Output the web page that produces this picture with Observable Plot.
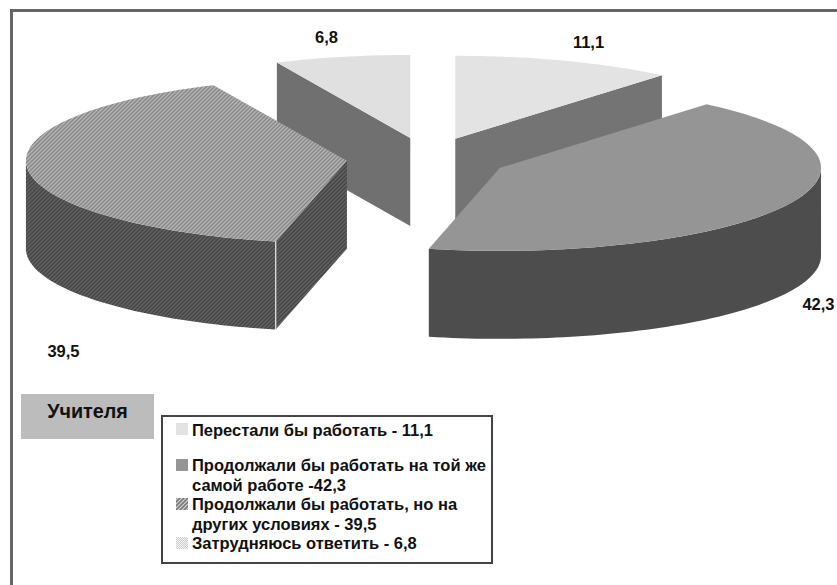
<!DOCTYPE html>
<html><head><meta charset="utf-8">
<script src="https://cdn.jsdelivr.net/npm/d3@7"></script>
<script src="https://cdn.jsdelivr.net/npm/@observablehq/plot@0.6"></script>
<style>
html,body{margin:0;padding:0;background:#fff;overflow:hidden}
#wrap{position:relative;width:837px;height:585px;font-family:"Liberation Sans",Arial,sans-serif;font-weight:bold;color:#111}
#wrap svg.plot{position:absolute;left:0;top:0}
#frameT{position:absolute;left:10px;top:9px;width:827px;height:3px;background:#666}
#frameL{position:absolute;left:10px;top:9px;width:3px;height:576px;background:#666}
#title{position:absolute;left:21px;top:394px;width:133px;height:45px;background:#bcbcbc;font-size:19.8px;line-height:35px;text-align:center;box-sizing:border-box}
#legend{position:absolute;left:161px;top:415px;width:332px;height:149px;border:2px solid #444;box-sizing:border-box;background:#fff}
.li{position:absolute;left:29px;font-size:16.5px;line-height:15px;white-space:nowrap}
.sw{position:absolute;left:13px;width:12px;height:12px}
</style></head><body>
<div id="wrap"></div>
<script>
const categories = ["Перестали бы работать", "Продолжали бы работать на той же самой работе", "Продолжали бы работать, но на других условиях", "Затрудняюсь ответить"];
const values = [11.1, 42.3, 39.5, 6.8];
const valueLabels = ["11,1", "42,3", "39,5", "6,8"];
const legendLines = [
  ["Перестали бы работать - 11,1"],
  ["Продолжали бы работать на той же", "самой работе -42,3"],
  ["Продолжали бы работать, но на", "других условиях - 39,5"],
  ["Затрудняюсь ответить - 6,8"]
];

// pie projection
const W = 837, H = 585;
const cx = 427, cy = 158, rx = 321, ry = 83, depth = 88, explode = 81, explodeY = 21;
const topFill = ["#e3e3e3", "#959595", "url(#hatchTop)", "url(#dotTop)"];
const sideFill = ["#747474", "#4d4d4d", "url(#hatchSide)", "url(#dotSide)"];
const labelAnchor = [[588, 42], [818, 304], [63, 351], [326, 37]];
const drawOrder = [3, 0, 2, 1];

const total = d3.sum(values);
const cumul = d3.cumsum(values);
const slices = values.map((v, i) => {
  const a0 = (i ? cumul[i - 1] : 0) / total * 2 * Math.PI;
  const a1 = cumul[i] / total * 2 * Math.PI;
  const mid = (a0 + a1) / 2;
  return {i, a0, a1, ox: cx + explode * Math.sin(mid), oy: cy - explodeY * Math.cos(mid)};
});
const arcPts = (s, a0, a1, dz = 0) => {
  const n = Math.max(2, Math.ceil((a1 - a0) * 40));
  return d3.range(n + 1).map(k => {
    const a = a0 + (a1 - a0) * k / n;
    return {x: s.ox + rx * Math.sin(a), y: s.oy - ry * Math.cos(a) + dz};
  });
};
const face = (pts, fill) => Plot.line(pts, {x: "x", y: "y", fill, stroke: "none", curve: "linear"});

const marks = [];
for (const i of drawOrder) {
  const s = slices[i];
  const apex = {x: s.ox, y: s.oy};
  const radial = a => {
    const p = {x: s.ox + rx * Math.sin(a), y: s.oy - ry * Math.cos(a)};
    return [apex, p, {x: p.x, y: p.y + depth}, {x: apex.x, y: apex.y + depth}];
  };
  // radial faces turned towards the viewer
  if (i === 0) marks.push(face(radial(s.a1), sideFill[i]));
  if (i === 2) marks.push(face(radial(s.a0), sideFill[i]));
  if (i === 3) marks.push(face(radial(s.a0), sideFill[i]));
  // front rim
  const from = Math.max(s.a0, Math.PI / 2), to = Math.min(s.a1, 3 * Math.PI / 2);
  if (to > from) {
    marks.push(face([...arcPts(s, from, to), ...arcPts(s, from, to, depth).reverse()], sideFill[i]));
  }
  // top
  marks.push(face([apex, ...arcPts(s, s.a0, s.a1)], topFill[i]));
  // light seam on the outer corner of the hatched slice
  if (i === 2) {
    const p = radial(s.a0);
    marks.push(Plot.line([p[1], p[2]], {x: "x", y: "y", stroke: "#e8e8e8", strokeWidth: 1.2}));
  }
}
marks.push(Plot.text(valueLabels.map((t, i) => ({t, x: labelAnchor[i][0], y: labelAnchor[i][1]})), {
  x: "x", y: "y", text: "t", fontSize: 16.5, fontWeight: "bold", fill: "#111",
  fontFamily: "Liberation Sans, Arial, sans-serif"
}));

const svg = Plot.plot({
  width: W, height: H, margin: 0,
  x: {domain: [0, W], range: [0, W], axis: null},
  y: {domain: [0, H], range: [0, H], axis: null},
  style: {background: "transparent"},
  marks
});
svg.classList.add("plot");

// hatch and dither fills
const defs = d3.select(svg).insert("defs", ":first-child");
function hatch(id, bg, fg, light) {
  const p = defs.append("pattern").attr("id", id).attr("patternUnits", "userSpaceOnUse")
    .attr("width", 4).attr("height", 4);
  p.append("rect").attr("width", 4).attr("height", 4).attr("fill", bg);
  p.append("path").attr("d", "M-1,1L1,-1M0,4L4,0M3,5L5,3").attr("stroke", fg).attr("stroke-width", 1.5);
  if (light) p.append("path").attr("d", "M1,5L5,1M-1,3L3,-1").attr("stroke", light).attr("stroke-width", .7);
}
function dither(id, a, b) {
  const p = defs.append("pattern").attr("id", id).attr("patternUnits", "userSpaceOnUse")
    .attr("width", 2).attr("height", 2);
  p.append("rect").attr("width", 2).attr("height", 2).attr("fill", a);
  p.append("rect").attr("width", 1).attr("height", 1).attr("fill", b);
  p.append("rect").attr("x", 1).attr("y", 1).attr("width", 1).attr("height", 1).attr("fill", b);
}
hatch("hatchTop", "#bdbdbd", "#767676", "#dcdcdc");
hatch("hatchSide", "#666666", "#3a3a3a", "#7c7c7c");
dither("dotTop", "#f4f4f4", "#cccccc");
dither("dotSide", "#7c7c7c", "#646464");

const wrap = document.getElementById("wrap");
wrap.appendChild(svg);
const add = (html) => wrap.insertAdjacentHTML("beforeend", html);
add('<div id="frameT"></div><div id="frameL"></div>');
add('<div id="title">Учителя</div>');

const rows = [[6], [41, 60.5], [80, 99.5], [119]];
const swTop = [6, 42, 81, 120];
let html = '<div id="legend">';
legendLines.forEach((lines, i) => {
  html += `<svg class="sw" style="top:${swTop[i]}px"><rect width="12" height="12" fill="${topFill[i]}"/></svg>`;
  lines.forEach((t, k) => { html += `<div class="li" style="top:${rows[i][k]}px">${t}</div>`; });
});
html += '</div>';
add(html);
</script>
</body></html>
